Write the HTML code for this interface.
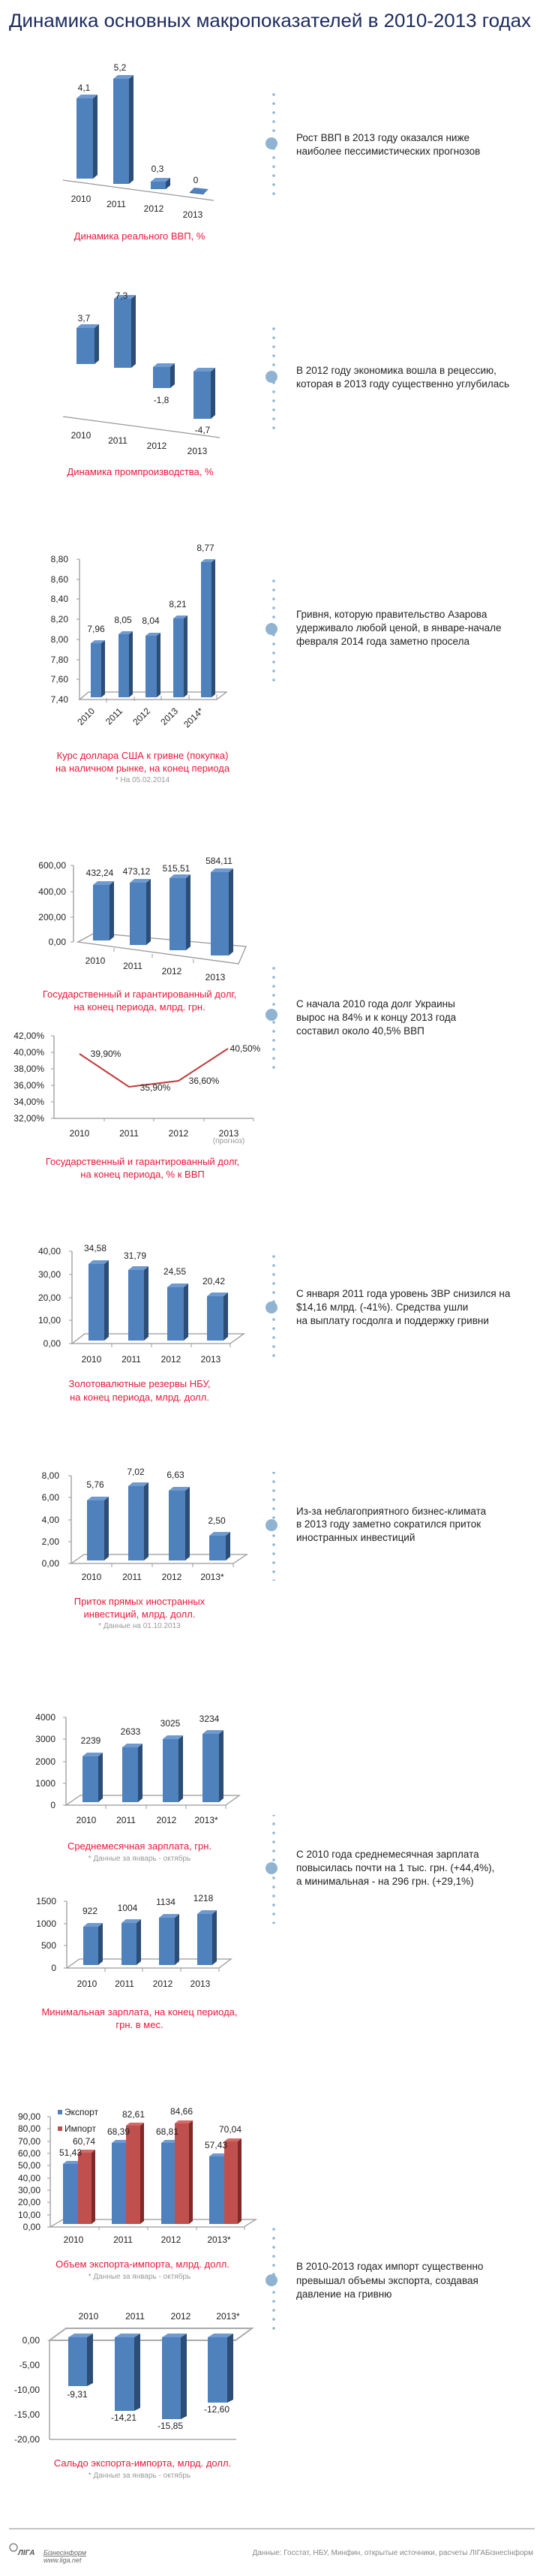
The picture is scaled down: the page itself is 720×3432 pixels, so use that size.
<!DOCTYPE html>
<html><head><meta charset="utf-8">
<style>
html,body{margin:0;padding:0;background:#fff;}
svg{display:block;}
text{font-family:"Liberation Sans","DejaVu Sans",sans-serif;}
.t{font-size:12px;fill:#222;}
.ax{font-size:12px;fill:#222;}
.cap{font-size:13px;fill:#e8173a;text-anchor:middle;}
.note{font-size:10px;fill:#999;text-anchor:middle;}
.body{font-size:13.5px;fill:#222;}
.F{fill:#4f81bd;} .S{fill:#2c4d75;} .T{fill:#6f9ad0;}
.RF{fill:#c0504d;} .RS{fill:#7f2a28;} .RT{fill:#d26b68;}
.g{stroke:#999;fill:none;stroke-width:1.3;}
.dot{fill:#8fb3d0;}
</style></head>
<body>
<svg width="720" height="3432" viewBox="0 0 720 3432" xmlns="http://www.w3.org/2000/svg">
<defs>
<pattern id="dots" x="0" y="0" width="10" height="12" patternUnits="userSpaceOnUse"><circle cx="5" cy="6" r="1.8" fill="#8fb3d0"/></pattern>
</defs>
<text x="12" y="36" font-size="25" fill="#1b2a5c" textLength="696" lengthAdjust="spacingAndGlyphs">Динамика основных макропоказателей в 2010-2013 годах</text>

<!-- separators: dotted lines with circle -->
<g>
<rect x="357" y="119" width="10" height="144" fill="url(#dots)"/><circle cx="362" cy="191" r="8" class="dot"/>
<rect x="357" y="430" width="10" height="146" fill="url(#dots)"/><circle cx="362" cy="502" r="8" class="dot"/>
<rect x="357" y="767" width="10" height="144" fill="url(#dots)"/><circle cx="362" cy="838" r="8" class="dot"/>
<rect x="357" y="1285" width="10" height="140" fill="url(#dots)"/><circle cx="362" cy="1352" r="8" class="dot"/>
<rect x="357" y="1670" width="10" height="145" fill="url(#dots)"/><circle cx="362" cy="1742" r="8" class="dot"/>
<rect x="357" y="1961" width="10" height="145" fill="url(#dots)"/><circle cx="362" cy="2032" r="8" class="dot"/>
<rect x="357" y="2418" width="10" height="145" fill="url(#dots)"/><circle cx="362" cy="2489" r="8" class="dot"/>
<rect x="357" y="2966" width="10" height="145" fill="url(#dots)"/><circle cx="362" cy="3038" r="8" class="dot"/>
</g>
<g class="body">
<text x="395" y="188">Рост ВВП в 2013 году оказался ниже</text>
<text x="395" y="206">наиболее пессимистических прогнозов</text>
<text x="395" y="498">В 2012 году экономика вошла в рецессию,</text>
<text x="395" y="516">которая в 2013 году существенно углубилась</text>
<text x="395" y="823">Гривня, которую правительство Азарова</text>
<text x="395" y="841">удерживало любой ценой, в январе-начале</text>
<text x="395" y="859">февраля 2014 года заметно просела</text>
<text x="395" y="1342">С начала 2010 года долг Украины</text>
<text x="395" y="1360">вырос на 84% и к концу 2013 года</text>
<text x="395" y="1378">составил около 40,5% ВВП</text>
<text x="395" y="1728">С января 2011 года уровень ЗВР снизился на</text>
<text x="395" y="1746">$14,16 млрд. (-41%). Средства ушли</text>
<text x="395" y="1764">на выплату госдолга и поддержку гривни</text>
<text x="395" y="2018">Из-за неблагоприятного бизнес-климата</text>
<text x="395" y="2035">в 2013 году заметно сократился приток</text>
<text x="395" y="2053">иностранных инвестиций</text>
<text x="395" y="2475">С 2010 года среднемесячная зарплата</text>
<text x="395" y="2493">повысилась почти на 1 тыс. грн. (+44,4%),</text>
<text x="395" y="2511">а минимальная - на 296 грн. (+29,1%)</text>
<text x="395" y="3024">В 2010-2013 годах импорт существенно</text>
<text x="395" y="3043">превышал объемы экспорта, создавая</text>
<text x="395" y="3061">давление на гривню</text>
</g>

<!-- Chart 1 GDP -->
<line x1="84" y1="240" x2="285" y2="267" stroke="#999" stroke-width="1.2"/>
<rect x="102" y="131" width="22" height="107" class="F"/><polygon points="124,131 130,126 130,233 124,238" class="S"/><polygon points="102,131 108,126 130,126 124,131" class="T"/>
<rect x="151" y="105" width="21" height="140" class="F"/><polygon points="172,105 178,100 178,240 172,245" class="S"/><polygon points="151,105 157,100 178,100 172,105" class="T"/>
<rect x="201" y="242" width="20" height="10" class="F"/><polygon points="221,242 227,237 227,247 221,252" class="S"/><polygon points="201,242 207,237 227,237 221,242" class="T"/>
<polygon points="253,256 259,250 278,252 272,258" class="F"/><polygon points="253,256 272,258 272,259 253,257" class="S"/>
<g class="t" text-anchor="middle">
<text x="112" y="121">4,1</text><text x="160" y="94">5,2</text><text x="210" y="229">0,3</text><text x="261" y="244">0</text>
<text x="108" y="269">2010</text><text x="155" y="276">2011</text><text x="205" y="282">2012</text><text x="257" y="290">2013</text>
</g>
<text x="186" y="319" class="cap">Динамика реального ВВП, %</text>

<!-- Chart 2 industry -->
<line x1="84" y1="555" x2="293" y2="583" stroke="#999" stroke-width="1.2"/>
<rect x="102" y="437" width="24" height="48" class="F"/><polygon points="126,437 132,432 132,480 126,485" class="S"/><polygon points="102,437 108,432 132,432 126,437" class="T"/>
<rect x="152" y="398" width="23" height="92" class="F"/><polygon points="175,398 181,393 181,485 175,490" class="S"/><polygon points="152,398 158,393 181,393 175,398" class="T"/>
<rect x="204" y="489" width="23" height="28" class="F"/><polygon points="227,489 233,484 233,512 227,517" class="S"/><polygon points="204,489 210,484 233,484 227,489" class="T"/>
<rect x="258" y="495" width="23" height="63" class="F"/><polygon points="281,495 287,490 287,553 281,558" class="S"/><polygon points="258,495 264,490 287,490 281,495" class="T"/>
<g class="t" text-anchor="middle">
<text x="112" y="428">3,7</text><text x="162" y="398">7,3</text><text x="215" y="537">-1,8</text><text x="270" y="577">-4,7</text>
<text x="108" y="584">2010</text><text x="157" y="591">2011</text><text x="209" y="598">2012</text><text x="263" y="605">2013</text>
</g>
<text x="187" y="633" class="cap">Динамика промпроизводства, %</text>

<!-- Chart 3 exchange rate -->
<line x1="106" y1="745" x2="106" y2="932" class="g"/>
<g stroke="#999"><line x1="102" y1="745" x2="106" y2="745"/><line x1="102" y1="772" x2="106" y2="772"/><line x1="102" y1="798" x2="106" y2="798"/><line x1="102" y1="825" x2="106" y2="825"/><line x1="102" y1="852" x2="106" y2="852"/><line x1="102" y1="879" x2="106" y2="879"/><line x1="102" y1="905" x2="106" y2="905"/>
<line x1="142" y1="930" x2="142" y2="936"/><line x1="179" y1="928" x2="179" y2="934"/><line x1="215" y1="927" x2="215" y2="933"/><line x1="252" y1="926" x2="252" y2="932"/><line x1="289" y1="925" x2="289" y2="931"/></g>
<polygon points="106,932 118,922 302,922 289,932" class="g"/>
<rect x="121" y="857" width="14" height="72" class="F"/><polygon points="135,857 140,853 140,925 135,929" class="S"/><polygon points="121,857 126,853 140,853 135,857" class="T"/>
<rect x="158" y="845" width="14" height="84" class="F"/><polygon points="172,845 177,841 177,925 172,929" class="S"/><polygon points="158,845 163,841 177,841 172,845" class="T"/>
<rect x="194" y="847" width="15" height="82" class="F"/><polygon points="209,847 214,843 214,925 209,929" class="S"/><polygon points="194,847 199,843 214,843 209,847" class="T"/>
<rect x="231" y="824" width="14" height="105" class="F"/><polygon points="245,824 250,820 250,925 245,929" class="S"/><polygon points="231,824 236,820 250,820 245,824" class="T"/>
<rect x="268" y="749" width="14" height="180" class="F"/><polygon points="282,749 287,745 287,925 282,929" class="S"/><polygon points="268,749 273,745 287,745 282,749" class="T"/>
<g class="ax" text-anchor="end">
<text x="91" y="749">8,80</text><text x="91" y="776">8,60</text><text x="91" y="802">8,40</text><text x="91" y="829">8,20</text><text x="91" y="856">8,00</text><text x="91" y="883">7,80</text><text x="91" y="909">7,60</text><text x="91" y="936">7,40</text>
</g>
<g class="t" text-anchor="middle">
<text x="128" y="842">7,96</text><text x="164" y="830">8,05</text><text x="201" y="831">8,04</text><text x="237" y="809">8,21</text><text x="274" y="734">8,77</text>
</g>
<g class="t" text-anchor="end">
<text transform="translate(127,948) rotate(-45)">2010</text><text transform="translate(164,948) rotate(-45)">2011</text><text transform="translate(201,948) rotate(-45)">2012</text><text transform="translate(238,948) rotate(-45)">2013</text><text transform="translate(272,948) rotate(-45)">2014*</text>
</g>
<text x="190" y="1011" class="cap">Курс доллара США к гривне (покупка)</text>
<text x="190" y="1028" class="cap">на наличном рынке, на конец периода</text>
<text x="190" y="1042" class="note">* На 05.02.2014</text>

<!-- Chart 4 debt -->
<line x1="98" y1="1153" x2="98" y2="1255" class="g"/>
<g stroke="#999"><line x1="94" y1="1153" x2="98" y2="1153"/><line x1="94" y1="1188" x2="98" y2="1188"/><line x1="94" y1="1222" x2="98" y2="1222"/><line x1="94" y1="1255" x2="98" y2="1255"/></g>
<polygon points="104,1255 126,1243 328,1261 318,1284" class="g"/>
<g stroke="#999"><line x1="152" y1="1263" x2="152" y2="1268"/><line x1="203" y1="1271" x2="203" y2="1276"/><line x1="258" y1="1278" x2="258" y2="1283"/></g>
<rect x="124" y="1179" width="22" height="74" class="F"/><polygon points="146,1179 152,1174 152,1248 146,1253" class="S"/><polygon points="124,1179 130,1174 152,1174 146,1179" class="T"/>
<rect x="173" y="1176" width="22" height="83" class="F"/><polygon points="195,1176 201,1171 201,1254 195,1259" class="S"/><polygon points="173,1176 179,1171 201,1171 195,1176" class="T"/>
<rect x="226" y="1170" width="22" height="96" class="F"/><polygon points="248,1170 254,1165 254,1261 248,1266" class="S"/><polygon points="226,1170 232,1165 254,1165 248,1170" class="T"/>
<rect x="281" y="1162" width="24" height="111" class="F"/><polygon points="305,1162 311,1157 311,1268 305,1273" class="S"/><polygon points="281,1162 287,1157 311,1157 305,1162" class="T"/>
<g class="ax" text-anchor="end"><text x="88" y="1157">600,00</text><text x="88" y="1192">400,00</text><text x="88" y="1226">200,00</text><text x="88" y="1259">0,00</text></g>
<g class="t" text-anchor="middle">
<text x="133" y="1167">432,24</text><text x="182" y="1165">473,12</text><text x="235" y="1161">515,51</text><text x="292" y="1151">584,11</text>
<text x="127" y="1284">2010</text><text x="177" y="1291">2011</text><text x="229" y="1298">2012</text><text x="287" y="1306">2013</text>
</g>
<text x="186" y="1329" class="cap">Государственный и гарантированный долг,</text>
<text x="186" y="1346" class="cap">на конец периода, млрд. грн.</text>

<!-- Chart 5 debt % line -->
<line x1="72" y1="1380" x2="72" y2="1490" class="g"/>
<line x1="72" y1="1490" x2="338" y2="1490" class="g"/>
<g stroke="#999"><line x1="68" y1="1380" x2="72" y2="1380"/><line x1="68" y1="1402" x2="72" y2="1402"/><line x1="68" y1="1424" x2="72" y2="1424"/><line x1="68" y1="1446" x2="72" y2="1446"/><line x1="68" y1="1468" x2="72" y2="1468"/><line x1="68" y1="1490" x2="72" y2="1490"/>
<line x1="139" y1="1490" x2="139" y2="1494"/><line x1="205" y1="1490" x2="205" y2="1494"/><line x1="272" y1="1490" x2="272" y2="1494"/><line x1="338" y1="1490" x2="338" y2="1494"/></g>
<polyline points="106,1404 172,1448 238,1440 304,1397" fill="none" stroke="#c0393b" stroke-width="2"/>
<g class="ax" text-anchor="end" font-size="11"><text x="59" y="1384">42,00%</text><text x="59" y="1406">40,00%</text><text x="59" y="1428">38,00%</text><text x="59" y="1450">36,00%</text><text x="59" y="1472">34,00%</text><text x="59" y="1494">32,00%</text></g>
<g class="t" text-anchor="middle">
<text x="141" y="1408">39,90%</text><text x="207" y="1453">35,90%</text><text x="272" y="1444">36,60%</text><text x="327" y="1401">40,50%</text>
<text x="106" y="1514">2010</text><text x="172" y="1514">2011</text><text x="238" y="1514">2012</text><text x="305" y="1514">2013</text>
</g>
<text x="305" y="1523" class="note" font-size="8">(прогноз)</text>
<text x="190" y="1552" class="cap">Государственный и гарантированный долг,</text>
<text x="190" y="1569" class="cap">на конец периода, % к ВВП</text>

<!-- Chart 6 reserves -->
<line x1="96" y1="1667" x2="96" y2="1790" class="g"/>
<g stroke="#999"><line x1="92" y1="1667" x2="96" y2="1667"/><line x1="92" y1="1698" x2="96" y2="1698"/><line x1="92" y1="1729" x2="96" y2="1729"/><line x1="92" y1="1759" x2="96" y2="1759"/><line x1="92" y1="1790" x2="96" y2="1790"/>
<line x1="149" y1="1790" x2="149" y2="1795"/><line x1="202" y1="1790" x2="202" y2="1795"/><line x1="255" y1="1790" x2="255" y2="1795"/><line x1="307" y1="1790" x2="307" y2="1795"/></g>
<polygon points="96,1790 113,1777 325,1777 307,1790" class="g"/>
<rect x="118" y="1684" width="21" height="102" class="F"/><polygon points="139,1684 145,1679 145,1781 139,1786" class="S"/><polygon points="118,1684 124,1679 145,1679 139,1684" class="T"/>
<rect x="171" y="1692" width="21" height="94" class="F"/><polygon points="192,1692 198,1687 198,1781 192,1786" class="S"/><polygon points="171,1692 177,1687 198,1687 192,1692" class="T"/>
<rect x="223" y="1715" width="22" height="71" class="F"/><polygon points="245,1715 251,1710 251,1781 245,1786" class="S"/><polygon points="223,1715 229,1710 251,1710 245,1715" class="T"/>
<rect x="276" y="1727" width="22" height="59" class="F"/><polygon points="298,1727 304,1722 304,1781 298,1786" class="S"/><polygon points="276,1727 282,1722 304,1722 298,1727" class="T"/>
<g class="ax" text-anchor="end"><text x="81" y="1671">40,00</text><text x="81" y="1702">30,00</text><text x="81" y="1733">20,00</text><text x="81" y="1763">10,00</text><text x="81" y="1794">0,00</text></g>
<g class="t" text-anchor="middle">
<text x="127" y="1667">34,58</text><text x="180" y="1677">31,79</text><text x="233" y="1698">24,55</text><text x="285" y="1711">20,42</text>
<text x="122" y="1815">2010</text><text x="175" y="1815">2011</text><text x="228" y="1815">2012</text><text x="281" y="1815">2013</text>
</g>
<text x="186" y="1848" class="cap">Золотовалютные резервы НБУ,</text>
<text x="186" y="1866" class="cap">на конец периода, млрд. долл.</text>

<!-- Chart 7 FDI -->
<line x1="95" y1="1966" x2="95" y2="2083" class="g"/>
<g stroke="#999"><line x1="91" y1="1966" x2="95" y2="1966"/><line x1="91" y1="1995" x2="95" y2="1995"/><line x1="91" y1="2025" x2="95" y2="2025"/><line x1="91" y1="2054" x2="95" y2="2054"/><line x1="91" y1="2083" x2="95" y2="2083"/>
<line x1="149" y1="2083" x2="149" y2="2088"/><line x1="203" y1="2083" x2="203" y2="2088"/><line x1="257" y1="2083" x2="257" y2="2088"/><line x1="311" y1="2083" x2="311" y2="2088"/></g>
<polygon points="95,2083 112,2071 329,2071 311,2083" class="g"/>
<rect x="116" y="1999" width="23" height="80" class="F"/><polygon points="139,1999 145,1994 145,2074 139,2079" class="S"/><polygon points="116,1999 122,1994 145,1994 139,1999" class="T"/>
<rect x="171" y="1980" width="21" height="99" class="F"/><polygon points="192,1980 198,1975 198,2074 192,2079" class="S"/><polygon points="171,1980 177,1975 198,1975 192,1980" class="T"/>
<rect x="225" y="1986" width="22" height="93" class="F"/><polygon points="247,1986 253,1981 253,2074 247,2079" class="S"/><polygon points="225,1986 231,1981 253,1981 247,1986" class="T"/>
<rect x="279" y="2046" width="22" height="33" class="F"/><polygon points="301,2046 307,2041 307,2074 301,2079" class="S"/><polygon points="279,2046 285,2041 307,2041 301,2046" class="T"/>
<g class="ax" text-anchor="end"><text x="79" y="1970">8,00</text><text x="79" y="1999">6,00</text><text x="79" y="2029">4,00</text><text x="79" y="2058">2,00</text><text x="79" y="2087">0,00</text></g>
<g class="t" text-anchor="middle">
<text x="127" y="1982">5,76</text><text x="181" y="1965">7,02</text><text x="234" y="1969">6,63</text><text x="289" y="2030">2,50</text>
<text x="122" y="2105">2010</text><text x="176" y="2105">2011</text><text x="229" y="2105">2012</text><text x="283" y="2105">2013*</text>
</g>
<text x="186" y="2138" class="cap">Приток прямых иностранных</text>
<text x="186" y="2155" class="cap">инвестиций, млрд. долл.</text>
<text x="186" y="2169" class="note">* Данные на 01.10.2013</text>

<!-- Chart 8 wage -->
<line x1="88" y1="2288" x2="88" y2="2405" class="g"/>
<g stroke="#999"><line x1="84" y1="2288" x2="88" y2="2288"/><line x1="84" y1="2317" x2="88" y2="2317"/><line x1="84" y1="2347" x2="88" y2="2347"/><line x1="84" y1="2376" x2="88" y2="2376"/><line x1="84" y1="2405" x2="88" y2="2405"/>
<line x1="141" y1="2405" x2="141" y2="2410"/><line x1="195" y1="2405" x2="195" y2="2410"/><line x1="248" y1="2405" x2="248" y2="2410"/><line x1="301" y1="2405" x2="301" y2="2410"/></g>
<polygon points="88,2405 107,2392 319,2392 301,2405" class="g"/>
<rect x="110" y="2340" width="21" height="61" class="F"/><polygon points="131,2340 137,2335 137,2396 131,2401" class="S"/><polygon points="110,2340 116,2335 137,2335 131,2340" class="T"/>
<rect x="163" y="2328" width="21" height="73" class="F"/><polygon points="184,2328 190,2323 190,2396 184,2401" class="S"/><polygon points="163,2328 169,2323 190,2323 184,2328" class="T"/>
<rect x="217" y="2317" width="21" height="84" class="F"/><polygon points="238,2317 244,2312 244,2396 238,2401" class="S"/><polygon points="217,2317 223,2312 244,2312 238,2317" class="T"/>
<rect x="270" y="2310" width="22" height="91" class="F"/><polygon points="292,2310 298,2305 298,2396 292,2401" class="S"/><polygon points="270,2310 276,2305 298,2305 292,2310" class="T"/>
<g class="ax" text-anchor="end"><text x="74" y="2292">4000</text><text x="74" y="2321">3000</text><text x="74" y="2351">2000</text><text x="74" y="2380">1000</text><text x="74" y="2409">0</text></g>
<g class="t" text-anchor="middle">
<text x="121" y="2323">2239</text><text x="174" y="2311">2633</text><text x="227" y="2300">3025</text><text x="279" y="2294">3234</text>
<text x="115" y="2429">2010</text><text x="168" y="2429">2011</text><text x="222" y="2429">2012</text><text x="275" y="2429">2013*</text>
</g>
<text x="186" y="2464" class="cap">Среднемесячная зарплата, грн.</text>
<text x="186" y="2479" class="note">* Данные за январь - октябрь</text>

<!-- Chart 9 min wage -->
<line x1="89" y1="2533" x2="89" y2="2622" class="g"/>
<g stroke="#999"><line x1="85" y1="2533" x2="89" y2="2533"/><line x1="85" y1="2563" x2="89" y2="2563"/><line x1="85" y1="2592" x2="89" y2="2592"/><line x1="85" y1="2622" x2="89" y2="2622"/>
<line x1="140" y1="2622" x2="140" y2="2627"/><line x1="190" y1="2622" x2="190" y2="2627"/><line x1="241" y1="2622" x2="241" y2="2627"/><line x1="292" y1="2622" x2="292" y2="2627"/></g>
<polygon points="89,2622 106,2610 308,2610 292,2622" class="g"/>
<rect x="111" y="2567" width="20" height="51" class="F"/><polygon points="131,2567 137,2562 137,2613 131,2618" class="S"/><polygon points="111,2567 117,2562 137,2562 131,2567" class="T"/>
<rect x="162" y="2562" width="20" height="56" class="F"/><polygon points="182,2562 188,2557 188,2613 182,2618" class="S"/><polygon points="162,2562 168,2557 188,2557 182,2562" class="T"/>
<rect x="212" y="2555" width="21" height="63" class="F"/><polygon points="233,2555 239,2550 239,2613 233,2618" class="S"/><polygon points="212,2555 218,2550 239,2550 233,2555" class="T"/>
<rect x="263" y="2550" width="20" height="68" class="F"/><polygon points="283,2550 289,2545 289,2613 283,2618" class="S"/><polygon points="263,2550 269,2545 289,2545 283,2550" class="T"/>
<g class="ax" text-anchor="end"><text x="75" y="2537">1500</text><text x="75" y="2567">1000</text><text x="75" y="2596">500</text><text x="75" y="2626">0</text></g>
<g class="t" text-anchor="middle">
<text x="120" y="2550">922</text><text x="170" y="2546">1004</text><text x="221" y="2538">1134</text><text x="271" y="2533">1218</text>
<text x="116" y="2647">2010</text><text x="166" y="2647">2011</text><text x="217" y="2647">2012</text><text x="267" y="2647">2013</text>
</g>
<text x="186" y="2685" class="cap">Минимальная зарплата, на конец периода,</text>
<text x="186" y="2702" class="cap">грн. в мес.</text>

<!-- Chart 10 export/import -->
<line x1="67" y1="2820" x2="67" y2="2967" class="g"/>
<g stroke="#999"><line x1="63" y1="2820" x2="67" y2="2820"/><line x1="63" y1="2836" x2="67" y2="2836"/><line x1="63" y1="2853" x2="67" y2="2853"/><line x1="63" y1="2869" x2="67" y2="2869"/><line x1="63" y1="2885" x2="67" y2="2885"/><line x1="63" y1="2902" x2="67" y2="2902"/><line x1="63" y1="2918" x2="67" y2="2918"/><line x1="63" y1="2934" x2="67" y2="2934"/><line x1="63" y1="2951" x2="67" y2="2951"/><line x1="63" y1="2967" x2="67" y2="2967"/>
<line x1="132" y1="2967" x2="132" y2="2971"/><line x1="197" y1="2967" x2="197" y2="2971"/><line x1="262" y1="2967" x2="262" y2="2971"/><line x1="326" y1="2967" x2="326" y2="2971"/></g>
<polygon points="67,2967 84,2957 341,2957 325,2967" class="g"/>
<rect x="84" y="2883" width="20" height="80" class="F"/><polygon points="84,2883 89,2879 109,2879 104,2883" class="T"/>
<rect x="104" y="2868" width="18" height="95" class="RF"/><polygon points="122,2868 127,2864 127,2959 122,2963" class="RS"/><polygon points="104,2868 109,2864 127,2864 122,2868" class="RT"/>
<rect x="149" y="2855" width="19" height="108" class="F"/><polygon points="149,2855 154,2851 173,2851 168,2855" class="T"/>
<rect x="168" y="2832" width="19" height="131" class="RF"/><polygon points="187,2832 192,2828 192,2959 187,2963" class="RS"/><polygon points="168,2832 173,2828 192,2828 187,2832" class="RT"/>
<rect x="215" y="2855" width="18" height="108" class="F"/><polygon points="215,2855 220,2851 238,2851 233,2855" class="T"/>
<rect x="233" y="2829" width="19" height="134" class="RF"/><polygon points="252,2829 257,2825 257,2959 252,2963" class="RS"/><polygon points="233,2829 238,2825 257,2825 252,2829" class="RT"/>
<rect x="279" y="2873" width="20" height="90" class="F"/><polygon points="279,2873 284,2869 304,2869 299,2873" class="T"/>
<rect x="299" y="2853" width="18" height="110" class="RF"/><polygon points="317,2853 322,2849 322,2959 317,2963" class="RS"/><polygon points="299,2853 304,2849 322,2849 317,2853" class="RT"/>
<rect x="77" y="2811" width="6" height="6" fill="#4f81bd"/><text x="86" y="2818" class="t" font-size="11">Экспорт</text>
<rect x="77" y="2833" width="6" height="6" fill="#c0504d"/><text x="86" y="2840" class="t" font-size="11">Импорт</text>
<g class="ax" text-anchor="end" font-size="10.5"><text x="54" y="2824">90,00</text><text x="54" y="2840">80,00</text><text x="54" y="2857">70,00</text><text x="54" y="2873">60,00</text><text x="54" y="2889">50,00</text><text x="54" y="2906">40,00</text><text x="54" y="2922">30,00</text><text x="54" y="2938">20,00</text><text x="54" y="2955">10,00</text><text x="54" y="2971">0,00</text></g>
<g class="t" text-anchor="middle" font-size="11">
<text x="94" y="2872">51,43</text><text x="112" y="2857">60,74</text><text x="158" y="2844">68,39</text><text x="178" y="2821">82,61</text><text x="223" y="2844">68,81</text><text x="242" y="2817">84,66</text><text x="288" y="2862">57,43</text><text x="307" y="2841">70,04</text>
<text x="98" y="2988">2010</text><text x="164" y="2988">2011</text><text x="228" y="2988">2012</text><text x="292" y="2988">2013*</text>
</g>
<text x="190" y="3021" class="cap">Объем экспорта-импорта, млрд. долл.</text>
<text x="186" y="3036" class="note">* Данные за январь - октябрь</text>

<!-- Chart 11 balance -->
<g class="t" text-anchor="middle" font-size="11"><text x="118" y="3090">2010</text><text x="180" y="3090">2011</text><text x="241" y="3090">2012</text><text x="304" y="3090">2013*</text></g>
<line x1="66" y1="3118" x2="66" y2="3250" class="g"/>
<line x1="66" y1="3250" x2="315" y2="3250" class="g"/>
<polygon points="66,3118 88,3102 336,3102 314,3118" fill="none" stroke="#aaa" stroke-width="2"/>
<rect x="91" y="3114" width="25" height="65" class="F"/><polygon points="116,3114 124,3109 124,3175 116,3179" class="S"/><polygon points="91,3114 99,3109 124,3109 116,3114" class="T"/>
<rect x="153" y="3114" width="26" height="98" class="F"/><polygon points="179,3114 187,3109 187,3208 179,3212" class="S"/><polygon points="153,3114 161,3109 187,3109 179,3114" class="T"/>
<rect x="216" y="3114" width="25" height="109" class="F"/><polygon points="241,3114 249,3109 249,3219 241,3223" class="S"/><polygon points="216,3114 224,3109 249,3109 241,3114" class="T"/>
<rect x="277" y="3114" width="26" height="87" class="F"/><polygon points="303,3114 311,3109 311,3197 303,3201" class="S"/><polygon points="277,3114 285,3109 311,3109 303,3114" class="T"/>
<g class="ax" text-anchor="end" font-size="11"><text x="53" y="3122">0,00</text><text x="53" y="3155">-5,00</text><text x="53" y="3188">-10,00</text><text x="53" y="3221">-15,00</text><text x="53" y="3254">-20,00</text></g>
<g class="t" text-anchor="middle" font-size="11"><text x="103" y="3194">-9,31</text><text x="165" y="3225">-14,21</text><text x="227" y="3236">-15,85</text><text x="289" y="3214">-12,60</text></g>
<text x="190" y="3286" class="cap">Сальдо экспорта-импорта, млрд. долл.</text>
<text x="186" y="3301" class="note">* Данные за январь - октябрь</text>

<!-- footer -->
<line x1="12" y1="3369" x2="713" y2="3369" stroke="#888" stroke-width="1"/>
<circle cx="18" cy="3394" r="5" fill="none" stroke="#888" stroke-width="1.5"/>
<text x="24" y="3404" font-size="10" font-weight="bold" font-style="italic" fill="#555">ЛІГА</text>
<text x="58" y="3404" font-size="9" font-style="italic" fill="#666" text-decoration="underline">Бізнесінформ</text>
<text x="58" y="3414" font-size="9" font-style="italic" fill="#666">www.liga.net</text>
<text x="711" y="3404" font-size="10" fill="#888" text-anchor="end">Данные: Госстат, НБУ, Минфин, открытые источники, расчеты ЛІГАБізнесІнформ</text>
</svg>
</body></html>
